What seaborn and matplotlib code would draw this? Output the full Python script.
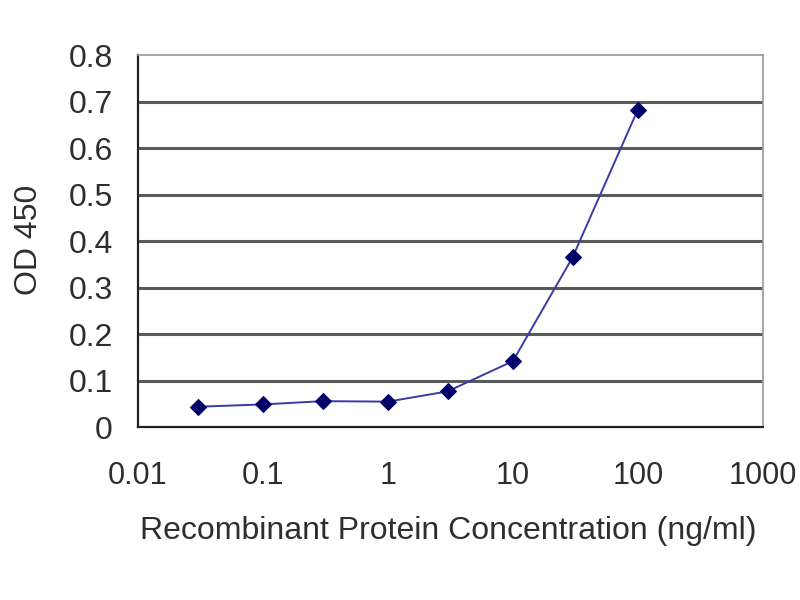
import numpy as np
import pandas as pd
import matplotlib
matplotlib.use("Agg")
import matplotlib.pyplot as plt
import seaborn as sns

# data
concentration = [0.03, 0.1, 0.3, 1, 3, 10, 30, 100]
od450 = [0.044, 0.049, 0.056, 0.055, 0.077, 0.142, 0.365, 0.683]
x_ticks = [0.01, 0.1, 1, 10, 100, 1000]
x_tick_labels = ["0.01", "0.1", "1", "10", "100", "1000"]
y_ticks = [0, 0.1, 0.2, 0.3, 0.4, 0.5, 0.6, 0.7, 0.8]
y_tick_labels = ["0", "0.1", "0.2", "0.3", "0.4", "0.5", "0.6", "0.7", "0.8"]

sns.set_style("white")
plt.rcParams["font.family"] = ["Liberation Sans", "DejaVu Sans"]

df = pd.DataFrame({"conc": concentration, "od": od450})

fig = plt.figure(figsize=(8, 6), dpi=100)
ax = fig.add_axes([0.1725, 0.288, 0.781, 0.62])

for y in y_ticks[1:-1]:
    ax.axhline(y, color="#5a5a5a", lw=2.2, zorder=1)

sns.lineplot(data=df, x="conc", y="od", ax=ax, color="#3a3aa8", lw=1.4,
             marker="D", markersize=8.5, markerfacecolor="#000066",
             markeredgecolor="#000066", zorder=3)

ax.set_xscale("log")
ax.set_xlim(0.01, 1000)
ax.set_ylim(0, 0.8)
ax.set_xticks(x_ticks)
ax.set_xticklabels(x_tick_labels)
ax.xaxis.set_minor_locator(matplotlib.ticker.NullLocator())
ax.set_yticks(y_ticks)
ax.set_yticklabels(y_tick_labels)

txt = "#2e2e2e"
ax.tick_params(axis="x", direction="in", length=4, width=1.2, colors="#222222",
               labelsize=22, labelcolor=txt, pad=24)
ax.tick_params(axis="y", length=0, labelsize=23, labelcolor=txt, pad=18)

for side in ["left", "bottom"]:
    ax.spines[side].set_color("#222222")
    ax.spines[side].set_linewidth(1.6)
for side in ["top", "right"]:
    ax.spines[side].set_color("#9a9a9a")
    ax.spines[side].set_linewidth(1.2)

ax.set_xlabel("Recombinant Protein Concentration (ng/ml)", fontsize=23, color=txt)
ax.set_ylabel("OD 450", fontsize=23, color=txt)
ax.xaxis.set_label_coords(0.496, -0.239)
ax.yaxis.set_label_coords(-0.15, 0.503)

fig.savefig("out.png", dpi=100)
